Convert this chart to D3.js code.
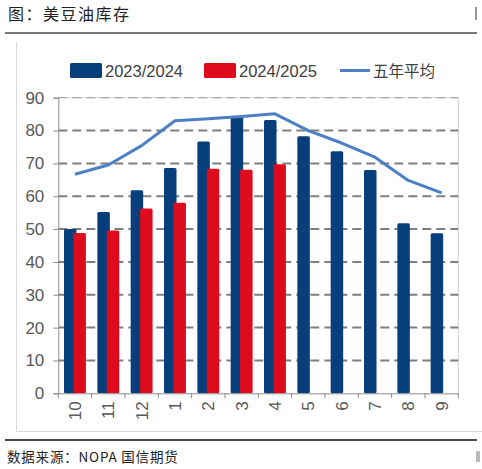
<!DOCTYPE html>
<html>
<head>
<meta charset="utf-8">
<script src="https://cdn.jsdelivr.net/npm/d3@7"></script>
<style>
  body { margin: 0; background: #fff; }
  svg { display: block; }
</style>
</head>
<body>
<div id="chart"></div>
<script>
// months of the crop year, Oct -> Sep
var months = ['10', '11', '12', '1', '2', '3', '4', '5', '6', '7', '8', '9'];
var stock2324 = [50, 55.2, 61.8, 68.6, 76.7, 84.2, 83.2, 78.3, 73.7, 68, 51.8, 48.7];
var stock2425 = [48.8, 49.6, 56.3, 58, 68.4, 68.1, 69.7];
var avg5y = [66.7, 69.5, 75.4, 83, 83.6, 84.3, 85.1, 80, 76.2, 71.9, 64.8, 61];
var yTicks = [0, 10, 20, 30, 40, 50, 60, 70, 80, 90];

var seriesNames = ['2023/2024', '2024/2025', '五年平均'];
var BLUE = '#063f7c';
var RED = '#de0b1c';
var LINE = '#4d7fc4';

var W = 482, H = 469;
var svg = d3.select('#chart').append('svg')
    .attr('width', W)
    .attr('height', H);

// title + rules
svg.append('text')
    .attr('x', 8).attr('y', 20)
    .attr('font-family', 'Noto Sans CJK SC')
    .attr('font-size', 16)
    .attr('letter-spacing', 1.5)
    .attr('fill', '#222')
    .text('图：美豆油库存');
svg.append('rect').attr('x', 475).attr('y', 7).attr('width', 2).attr('height', 13).attr('fill', '#999');
svg.append('line')
    .attr('x1', 5).attr('x2', 477).attr('y1', 33).attr('y2', 33)
    .attr('stroke', '#777').attr('stroke-width', 2);

// chart frame
svg.append('path')
    .attr('d', 'M16.5,42 V431.5 H482')
    .attr('fill', 'none').attr('stroke', '#d9d9d9');

// scales
var x = d3.scaleBand().domain(months).range([58.3, 458.3]);
var y = d3.scaleLinear().domain([0, 90]).range([393.3, 97.7]);

var g = svg.append('g');

// plot area border (top + right)
g.append('path')
    .attr('d', 'M58.3,' + y(90) + ' H458.3 V' + y(0))
    .attr('fill', 'none').attr('stroke', '#d0d0d0');

// dashed gridlines
g.selectAll('.grid')
    .data(yTicks.filter(function (d) { return d > 0; }))
    .enter().append('line')
    .attr('class', 'grid')
    .attr('x1', 58.3).attr('x2', 458.3)
    .attr('y1', function (d) { return y(d); })
    .attr('y2', function (d) { return y(d); })
    .attr('stroke', function (d) { return d === 90 ? '#aaa' : '#7f7f7f'; })
    .attr('stroke-width', function (d) { return d === 90 ? 1.2 : 2; })
    .attr('stroke-dasharray', '9,5');

// bars
var bw = 12.5, off = 4.7;
g.selectAll('.b1')
    .data(stock2324)
    .enter().append('rect')
    .attr('class', 'b1')
    .attr('x', function (d, i) { return x(months[i]) + x.bandwidth() / 2 - off - bw / 2; })
    .attr('y', function (d) { return y(d); })
    .attr('width', bw)
    .attr('height', function (d) { return y(0) - y(d); })
    .attr('rx', 1.5)
    .attr('fill', BLUE);
g.selectAll('.b2')
    .data(stock2425)
    .enter().append('rect')
    .attr('class', 'b2')
    .attr('x', function (d, i) { return x(months[i]) + x.bandwidth() / 2 + off - bw / 2; })
    .attr('y', function (d) { return y(d); })
    .attr('width', bw)
    .attr('height', function (d) { return y(0) - y(d); })
    .attr('rx', 1.5)
    .attr('fill', RED);

// five-year average
var line = d3.line()
    .x(function (d, i) { return x(months[i]) + x.bandwidth() / 2; })
    .y(function (d) { return y(d); });
g.append('path')
    .datum(avg5y)
    .attr('d', line)
    .attr('fill', 'none')
    .attr('stroke', LINE)
    .attr('stroke-width', 3)
    .attr('stroke-linejoin', 'round');

// y axis
var yAxis = g.append('g')
    .attr('transform', 'translate(58.3,0)')
    .call(d3.axisLeft(y).tickValues(yTicks).tickSize(5).tickPadding(9));
yAxis.select('.domain').attr('stroke', '#8c8c8c');
yAxis.selectAll('.tick line').attr('stroke', '#8c8c8c');
yAxis.selectAll('text')
    .attr('font-family', 'Liberation Sans, Arial, sans-serif')
    .attr('font-size', 17)
    .attr('fill', '#595959');

// x axis
var xAxis = g.append('g')
    .attr('transform', 'translate(0,' + y(0) + ')')
    .call(d3.axisBottom(x).tickSize(0).tickPadding(0));
xAxis.select('.domain').attr('stroke', '#8c8c8c');
xAxis.selectAll('.tick text')
    .attr('font-family', 'Liberation Sans, Arial, sans-serif')
    .attr('font-size', 17)
    .attr('fill', '#595959')
    .attr('transform', 'rotate(-90)')
    .attr('text-anchor', 'end')
    .attr('dy', '0.35em')
    .attr('x', -8)
    .attr('y', 0);
// boundary ticks
xAxis.selectAll('.bound')
    .data(d3.range(months.length + 1))
    .enter().append('line')
    .attr('class', 'bound')
    .attr('x1', function (i) { return 58.3 + i * x.step(); })
    .attr('x2', function (i) { return 58.3 + i * x.step(); })
    .attr('y1', 0).attr('y2', 5)
    .attr('stroke', '#8c8c8c');

// legend
var lg = svg.append('g')
    .attr('font-family', 'Liberation Sans, Arial, sans-serif')
    .attr('font-size', 16.5)
    .attr('fill', '#404040');
lg.append('rect').attr('x', 70).attr('y', 63).attr('width', 32).attr('height', 15).attr('rx', 1.5).attr('fill', BLUE);
lg.append('text').attr('x', 105).attr('y', 76.5).text(seriesNames[0]);
lg.append('rect').attr('x', 204).attr('y', 63).attr('width', 32).attr('height', 15).attr('rx', 1.5).attr('fill', RED);
lg.append('text').attr('x', 239).attr('y', 76.5).text(seriesNames[1]);
lg.append('line').attr('x1', 340).attr('x2', 370).attr('y1', 70.5).attr('y2', 70.5)
    .attr('stroke', LINE).attr('stroke-width', 3);
lg.append('text').attr('x', 373).attr('y', 76.5)
    .attr('font-family', 'Noto Sans CJK SC')
    .attr('font-size', 15.5)
    .text(seriesNames[2]);

// footer
svg.append('line')
    .attr('x1', 5).attr('x2', 477).attr('y1', 440).attr('y2', 440)
    .attr('stroke', '#111').attr('stroke-width', 1.5);
svg.append('text')
    .attr('x', 7).attr('y', 462)
    .attr('font-family', 'Noto Sans CJK SC')
    .attr('font-size', 13.5)
    .attr('letter-spacing', 0.8)
    .attr('fill', '#222')
    .text('数据来源：NOPA 国信期货');
// partial glyph at the page edge
svg.append('rect').attr('x', 476).attr('y', 451).attr('width', 4).attr('height', 11).attr('fill', '#bbb');
</script>
</body>
</html>
